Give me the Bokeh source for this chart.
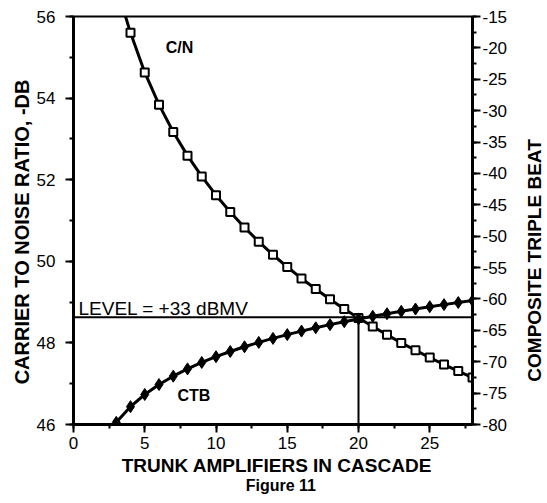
import math
from bokeh.plotting import figure
from bokeh.models import (Range1d, LinearAxis, SingleIntervalTicker, Label, Span,
                          PrintfTickFormatter)
from bokeh.embed import file_html
from bokeh.resources import INLINE

# ---- data ----
cn_x = [4, 5, 6, 7, 8, 9, 10, 11, 12, 13, 14, 15, 16, 17, 18, 19, 20,
        21, 22, 23, 24, 25, 26, 27, 28]
cn_y = [55.60, 54.63, 53.84, 53.17, 52.59, 52.08, 51.62, 51.21, 50.83, 50.48,
        50.16, 49.86, 49.58, 49.32, 49.07, 48.83, 48.61, 48.40, 48.20, 48.00,
        47.82, 47.64, 47.47, 47.31, 47.15]
cn_line_x = [3.6] + cn_x
cn_line_y = [56.06] + cn_y

ctb_x = [3, 4, 5, 6, 7, 8, 9, 10, 11, 12, 13, 14, 15, 16, 17, 18, 19, 20,
         21, 22, 23, 24, 25, 26, 27, 28]
ctb_y = [-79.66, -77.16, -75.22, -73.64, -72.30, -71.14, -70.12, -69.20,
         -68.37, -67.62, -66.92, -66.28, -65.68, -65.12, -64.59, -64.09,
         -63.62, -63.18, -62.76, -62.35, -61.97, -61.60, -61.24, -60.90,
         -60.57, -60.26]
ctb_line_x = [2.7] + ctb_x
ctb_line_y = [-80.57] + ctb_y

level_cn = 48.63        # horizontal reference line (left axis units)
cross_x = 20            # vertical drop line
level_text = "LEVEL = +33 dBMV"

FONT = "Liberation Sans"

p = figure(frame_width=399, frame_height=408,
           x_range=Range1d(0, 28), y_range=Range1d(46, 56),
           output_backend="svg", toolbar_location=None,
           min_border_left=73, min_border_right=74,
           min_border_top=16, min_border_bottom=77)
p.grid.visible = False
p.background_fill_color = "white"
p.border_fill_color = "white"
p.outline_line_color = "black"
p.outline_line_width = 2

p.extra_y_ranges = {"ctb": Range1d(-80, -15)}
right = LinearAxis(y_range_name="ctb",
                   ticker=SingleIntervalTicker(interval=5, num_minor_ticks=2),
                   formatter=PrintfTickFormatter(format="%d"))
p.add_layout(right, "right")

p.xaxis.ticker = SingleIntervalTicker(interval=5, num_minor_ticks=2)
p.yaxis[0].ticker = SingleIntervalTicker(interval=2, num_minor_ticks=2)

for ax in p.axis:
    ax.axis_line_width = 3
    ax.axis_line_color = "black"
    ax.major_tick_line_width = 2
    ax.major_tick_out = 8
    ax.major_tick_in = 0
    ax.minor_tick_line_width = 2
    ax.minor_tick_out = 4
    ax.minor_tick_in = 0
    ax.major_label_text_font = FONT
    ax.major_label_text_font_size = "17px"
    ax.major_label_text_color = "black"
    ax.major_label_standoff = 4
p.yaxis[0].major_label_standoff = 10
right.major_label_standoff = 2

# reference lines
p.add_layout(Span(location=level_cn, dimension="width",
                  line_color="black", line_width=2))
p.segment(x0=[cross_x], y0=[level_cn], x1=[cross_x], y1=[46],
          line_color="black", line_width=2)

# C/N
p.line(cn_line_x, cn_line_y, line_color="black", line_width=3)
p.scatter(cn_x, cn_y, marker="square", size=8, fill_color="white",
          line_color="black", line_width=2)

# CTB on the right axis
p.line(ctb_line_x, ctb_line_y, line_color="black", line_width=3,
       y_range_name="ctb")
p.scatter(ctb_x, ctb_y, marker="diamond", size=12, fill_color="black",
          line_color="black", y_range_name="ctb")

# in-plot labels
p.add_layout(Label(x=6.47, y=55.24, text="C/N", text_font=FONT,
                   text_font_style="bold", text_font_size="16px",
                   text_color="black",
                   text_baseline="middle", text_align="left"))
p.add_layout(Label(x=7.29, y=46.70, text="CTB", text_font=FONT,
                   text_font_style="bold", text_font_size="16px",
                   text_color="black",
                   text_baseline="middle", text_align="left"))
p.add_layout(Label(x=0.35, y=48.84, text=level_text, text_font=FONT,
                   text_font_size="19px", text_baseline="alphabetic",
                   text_color="black", text_align="left"))

# axis titles placed in the side panels
p.add_layout(Label(x=-3.58, y=50.72, text="CARRIER TO NOISE RATIO, -DB",
                   text_font=FONT, text_font_style="bold",
                   text_font_size="20px", angle=math.pi / 2,
                   text_color="black",
                   text_align="center", text_baseline="middle"), "left")
p.add_layout(Label(x=32.35, y=50.02, text="COMPOSITE TRIPLE BEAT",
                   text_font=FONT, text_font_style="bold",
                   text_font_size="19px", angle=math.pi / 2,
                   text_color="black",
                   text_align="center", text_baseline="middle"), "right")
p.add_layout(Label(x=14.27, y=45.0, text="TRUNK AMPLIFIERS IN CASCADE",
                   text_font=FONT, text_font_style="bold",
                   text_font_size="19px", text_color="black",
                   text_align="center", text_baseline="middle"), "below")
p.add_layout(Label(x=14.55, y=44.5, text="Figure 11",
                   text_font=FONT, text_font_style="bold",
                   text_font_size="16px", text_color="black",
                   text_align="center", text_baseline="middle"), "below")

open("out.html", "w").write(file_html(p, INLINE))
